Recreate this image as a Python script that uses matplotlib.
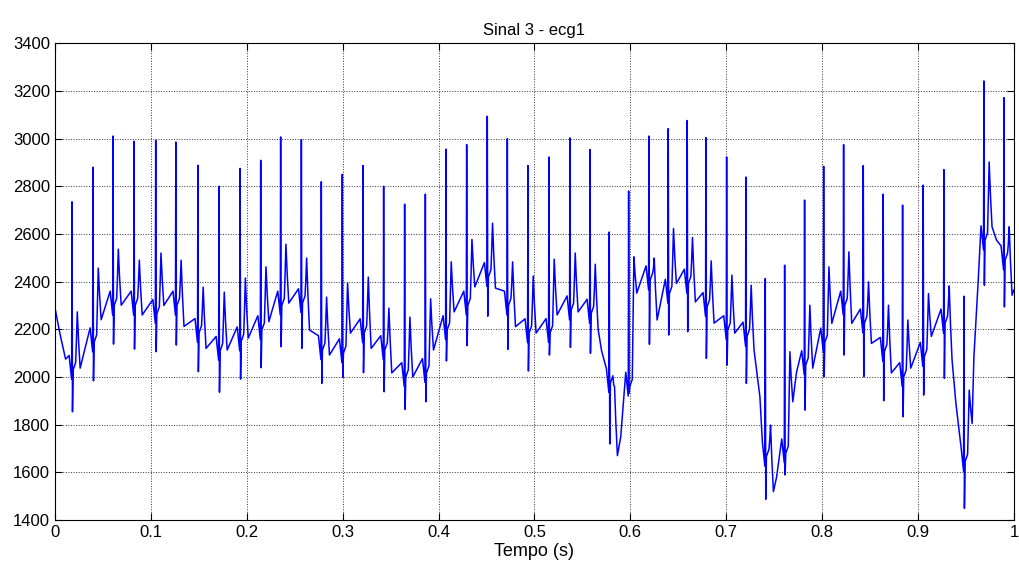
import numpy as np
import matplotlib
matplotlib.use('Agg')
import matplotlib.pyplot as plt

plt.rcParams['font.family'] = ['Liberation Sans', 'DejaVu Sans']

# beat data (time of R peak, R value, S value,
# level before QRS, T wave top, level after T wave)
r_time = [0.0177, 0.0396, 0.0605, 0.0824, 0.1050, 0.1260, 0.1490, 0.1710,
          0.1930, 0.2145, 0.2353, 0.2569, 0.2777, 0.2996, 0.3212, 0.3427,
          0.3646, 0.3862, 0.4077, 0.4293, 0.4508, 0.4717, 0.4932, 0.5151,
          0.5370, 0.5579, 0.5780, 0.5982, 0.6194, 0.6395, 0.6593, 0.6788,
          0.7004, 0.7205, 0.7407, 0.7609, 0.7817, 0.8016, 0.8224, 0.8429,
          0.8637, 0.8839, 0.9054, 0.9270, 0.9479, 0.9687, 0.9896]
r_peak = [2735, 2880, 3011, 2989, 2993, 2986, 2888, 2800,
          2875, 2909, 3007, 2996, 2819, 2850, 2887, 2800,
          2725, 2767, 2956, 2975, 3094, 3000, 2887, 2923,
          3003, 2954, 2608, 2780, 3011, 3042, 3076, 3004,
          2923, 2839, 2413, 2469, 2742, 2884, 2975, 2887,
          2767, 2721, 2805, 2870, 2339, 3242, 3172]
s_min = [1854, 1984, 2138, 2117, 2106, 2134, 2022, 1936,
         1991, 2039, 2127, 2120, 1973, 1998, 2018, 1938,
         1864, 1896, 2067, 2131, 2255, 2116, 2025, 2092,
         2124, 2099, 1719, 1932, 2137, 2176, 2190, 2078,
         2050, 1973, 1487, 1589, 1861, 2001, 2092, 2001,
         1900, 1833, 1924, 1994, 1449, 2385, 2294]
pre_level = [2030, 2146, 2300, 2300, 2265, 2300, 2185, 2110,
             2150, 2197, 2300, 2310, 2113, 2100, 2184, 2113,
             2000, 2017, 2197, 2300, 2420, 2300, 2184, 2185,
             2280, 2266, 1975, 1960, 2406, 2350, 2392, 2294,
             2197, 2170, 1666, 1680, 2050, 2145, 2300, 2225,
             2106, 2000, 2085, 2225, 1645, 2574, 2490]
t_wave = [2273, 2457, 2536, 2490, 2520, 2490, 2377, 2356,
          2415, 2462, 2557, 2499, 2335, 2394, 2419, 2289,
          2251, 2328, 2483, 2577, 2645, 2483, 2424, 2494,
          2520, 2473, 1960, 2504, 2499, 2623, 2585, 2487,
          2427, 2385, 1798, 2106, 2301, 2462, 2525, 2399,
          2301, 2239, 2350, 2382, 1945, 2902, 2630]
post_level = [2037, 2240, 2301, 2260, 2300, 2212, 2120, 2113,
              2163, 2232, 2310, 2197, 2092, 2184, 2120, 2017,
              2000, 2113, 2273, 2378, 2373, 2211, 2184, 2260,
              2273, 2200, 1670, 2352, 2239, 2392, 2315, 2226,
              2184, 2113, 1519, 1896, 2037, 2225, 2225, 2141,
              2017, 2037, 2170, 2072, 1805, 2630, 2343]

# baseline wander points between beats (start, dips, end)
wander_t = [0.000, 0.005, 0.011, 0.570, 0.590, 0.7351, 0.7525, 0.7733,
            0.9395, 0.9583, 0.9628, 0.9819, 1.000]
wander_v = [2289, 2184, 2075, 2110, 1750, 1917, 1580, 2020,
            1890, 2085, 2406, 2574, 2365]

# build the trace: P bump, Q, R, S, return, T, after-T for each beat
pts = list(zip(wander_t, wander_v))
for tr, rp, sm, pr, tw, po in zip(r_time, r_peak, s_min, pre_level, t_wave, post_level):
    mid = (pr + tw) / 2
    pts += [(tr - 0.0030, pr + 60), (tr - 0.0015, pr), (tr - 0.0004, pr - 40),
            (tr, rp), (tr + 0.0005, sm), (tr + 0.0012, pr),
            (tr + 0.0038, pr + 30), (tr + 0.0046, mid), (tr + 0.0055, tw),
            (tr + 0.0068, (tw + po) / 2), (tr + 0.0085, po)]
pts.sort()
t = np.array([p[0] for p in pts])
v = np.array([p[1] for p in pts])

fig = plt.figure(figsize=(10.19, 5.75), dpi=100)
ax = fig.add_axes([0.054, 0.0957, 0.941, 0.829])
ax.plot(t, v, color='blue', linewidth=1.1)

ax.set_xlim(0, 1)
ax.set_ylim(1400, 3400)
ax.set_xticks(np.arange(0, 1.01, 0.1))
ax.set_xticklabels(['0', '0.1', '0.2', '0.3', '0.4', '0.5', '0.6', '0.7', '0.8', '0.9', '1'])
ax.set_yticks(np.arange(1400, 3401, 200))
ax.tick_params(direction='in', top=True, right=True, labelsize=12, length=5)
ax.grid(True, linestyle=':', color='#333333', linewidth=0.7)
for s in ax.spines.values():
    s.set_linewidth(0.8)

ax.set_title('Sinal 3 - ecg1', fontsize=12)
ax.set_xlabel('Tempo (s)', fontsize=13, labelpad=2)

fig.savefig('out.png', dpi=100)
